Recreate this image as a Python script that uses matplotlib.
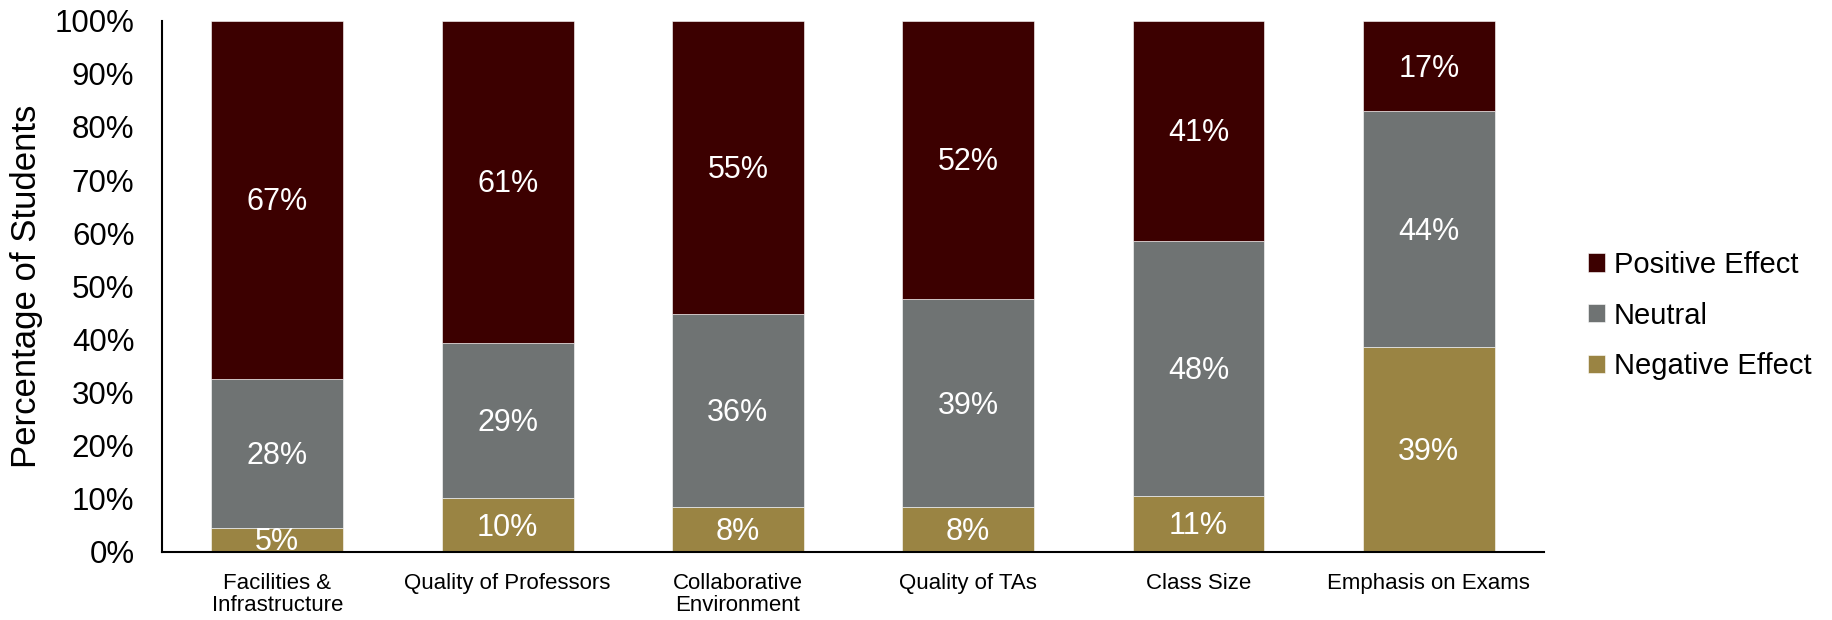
import numpy as np
import matplotlib.pyplot as plt

plt.rcParams['font.family'] = ['Liberation Sans', 'DejaVu Sans']

# dados (% de estudantes)
categorias = ['Facilities &\nInfrastructure', 'Quality of Professors', 'Collaborative\nEnvironment',
              'Quality of TAs', 'Class Size', 'Emphasis on Exams']
negativo = [4.6, 10.2, 8.4, 8.4, 10.6, 38.6]
neutro = [28.0, 29.2, 36.4, 39.2, 48.0, 44.3]
positivo = [67.4, 60.6, 55.2, 52.4, 41.4, 17.1]

cor_neg = '#9a8443'
cor_neu = '#6f7373'
cor_pos = '#3c0000'

fig = plt.figure(figsize=(18.33, 6.2), dpi=100)
ax = fig.add_axes([0.0885, 0.1097, 0.7538, 0.8571])

x = np.arange(len(categorias))
largura = 0.573
neg = np.array(negativo)
neu = np.array(neutro)
pos = np.array(positivo)

b1 = ax.bar(x, neg, largura, color=cor_neg, edgecolor='white', linewidth=0.4, label='Negative Effect')
b2 = ax.bar(x, neu, largura, bottom=neg, color=cor_neu, edgecolor='white', linewidth=0.4, label='Neutral')
b3 = ax.bar(x, pos, largura, bottom=neg + neu, color=cor_pos, edgecolor='white', linewidth=0.4, label='Positive Effect')

## rotulos dentro das barras
for barras in (b1, b2, b3):
    for r in barras:
        h = r.get_height()
        ax.text(r.get_x() + r.get_width() / 2, r.get_y() + h / 2 - 0.5, f'{h:.0f}%',
                ha='center', va='center', color='white', fontsize=22)

ax.set_xlim(-0.5, len(categorias) - 0.5)
ax.set_ylim(0, 100)
ax.set_yticks(np.arange(0, 101, 10))
ax.set_yticklabels([f'{v}%' for v in range(0, 101, 10)])
ax.set_xticks(x)
ax.set_xticklabels(categorias, fontsize=16, linespacing=1.1)
ax.tick_params(axis='y', length=0, labelsize=22.5, pad=20)
ax.tick_params(axis='x', length=0, pad=15)
ax.set_ylabel('Percentage of Students', fontsize=25, labelpad=8)

for lado in ['top', 'right']:
    ax.spines[lado].set_visible(False)
for lado in ['left', 'bottom']:
    ax.spines[lado].set_linewidth(1.5)
    ax.spines[lado].set_color('black')

fig.legend(handles=[b3, b2, b1], loc='center left', bbox_to_anchor=(0.8663, 0.491),
           frameon=False, fontsize=21, handlelength=0.58, handleheight=0.58,
           handletextpad=0.3, labelspacing=0.78, borderpad=0, borderaxespad=0)

fig.savefig('out.png', dpi=100)
